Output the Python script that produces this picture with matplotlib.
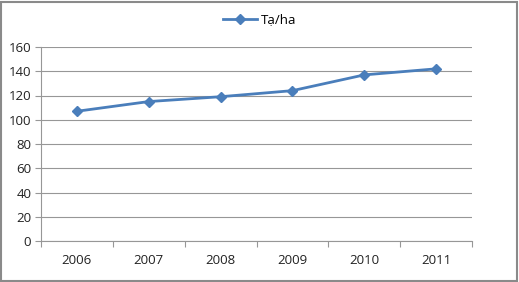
import matplotlib.pyplot as plt
from matplotlib.patches import Rectangle
from matplotlib.lines import Line2D

years = ["2006", "2007", "2008", "2009", "2010", "2011"]
ta_ha = [107, 115, 119, 124, 137, 142]
y_ticks = [0, 20, 40, 60, 80, 100, 120, 140, 160]

LINE = "#4a7ebb"
GRID = "#979797"

plt.rcParams["font.family"] = ["Open Sans", "DejaVu Sans"]

fig = plt.figure(figsize=(5.19, 2.82), dpi=100)
ax = fig.add_axes([41 / 519, 41 / 282, 431 / 519, 194 / 282])

x = list(range(len(years)))
ax.plot(x, ta_ha, color=LINE, linewidth=2.0, marker="D", markersize=5,
        markerfacecolor=LINE, markeredgecolor=LINE, label="Tạ/ha", zorder=3)

ax.set_xlim(-0.5, len(years) - 0.5)
ax.set_ylim(0, 160)
ax.set_yticks(y_ticks)
ax.set_yticklabels([str(v) for v in y_ticks], fontsize=9.5, color="#222222")
ax.set_xticks(x)
ax.set_xticklabels(years, fontsize=9.5, color="#222222")
ax.tick_params(axis="x", length=0, pad=9)
ax.tick_params(axis="y", length=4, width=0.8, color=GRID, pad=3)

# category boundary ticks on x axis
ax.set_xticks([i - 0.5 for i in range(len(years) + 1)], minor=True)
ax.tick_params(axis="x", which="minor", length=4, width=0.8, color=GRID)

ax.grid(axis="y", color=GRID, linewidth=0.8)
ax.set_axisbelow(True)
for s in ["top", "right"]:
    ax.spines[s].set_visible(False)
ax.spines["left"].set_color(GRID)
ax.spines["bottom"].set_color(GRID)
ax.spines["left"].set_linewidth(0.8)
ax.spines["bottom"].set_linewidth(0.8)

handle = Line2D([], [], color=LINE, linewidth=2.0, marker="D", markersize=5)
fig.legend([handle], ["Tạ/ha"], loc="center", bbox_to_anchor=(0.5, 1 - 20 / 282),
           frameon=False, fontsize=9.5, handlelength=2.6, handletextpad=0.3)

fig.patches.append(Rectangle((0.002, 0.004), 0.994, 0.99, transform=fig.transFigure,
                             fill=False, edgecolor="#8a8a8a", linewidth=1.5))

fig.savefig("out.png", dpi=100)
